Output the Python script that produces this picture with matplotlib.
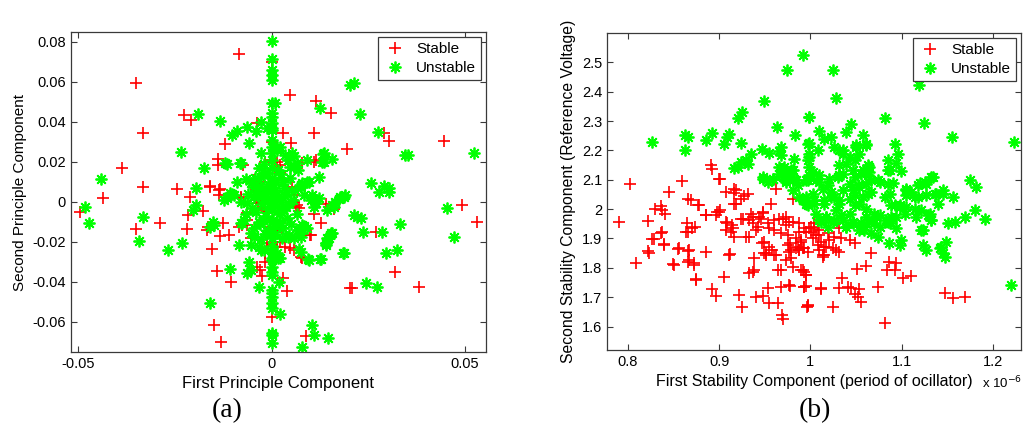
import numpy as np
import matplotlib
matplotlib.use('Agg')
import matplotlib.pyplot as plt

# (a) principal components, (x, y)
a_stable = np.array([
    (-0.0083, 0.0739), (-0.0349, 0.0595), (-0.0332, 0.0345), (-0.0227, 0.0434), (-0.0208, 0.0409),
    (-0.0386, 0.0167), (-0.0121, 0.0289), (-0.0138, 0.0212), (-0.0138, 0.0186), (-0.0073, 0.0185),
    (-0.0037, 0.0392), (0.0049, 0.0534), (0.0030, 0.0345), (0.0051, 0.0292), (0.0116, 0.0505),
    (0.0154, 0.0442), (0.0109, 0.0345), (0.0196, 0.0262), (0.0111, 0.0200), (-0.0332, 0.0075),
    (-0.0244, 0.0065), (-0.0160, 0.0080), (-0.0134, 0.0065), (0.0015, 0.0200), (0.0000, 0.0700),
    (0.0000, 0.0300), (0.0290, 0.0345), (0.0303, 0.0305), (0.0445, 0.0304), (0.0079, 0.0192),
    (-0.0436, 0.0017), (-0.0495, -0.0050), (-0.0351, -0.0138), (-0.0289, -0.0108), (-0.0218, -0.0138),
    (-0.0215, -0.0067), (-0.0211, 0.0022), (-0.0177, -0.0045), (-0.0166, -0.0142), (-0.0163, -0.0128),
    (-0.0153, -0.0238), (-0.0132, -0.0172), (-0.0110, -0.0167), (-0.0125, -0.0108), (-0.0142, -0.0347),
    (-0.0104, -0.0400), (-0.0149, -0.0617), (-0.0130, -0.0700), (-0.0080, 0.0017), (-0.0063, -0.0058),
    (-0.0063, -0.0092), (-0.0063, -0.0117), (-0.0054, -0.0183), (-0.0035, 0.0050), (-0.0035, -0.0008),
    (-0.0037, -0.0328), (-0.0030, -0.0342), (-0.0024, -0.0372), (-0.0024, -0.0242), (-0.0016, -0.0257),
    (-0.0016, -0.0300), (0.0000, -0.0578), (0.0030, -0.0383), (0.0040, -0.0445), (0.0088, -0.0670),
    (0.0036, -0.0225), (0.0049, -0.0233), (0.0058, -0.0242), (0.0075, -0.0275), (0.0066, -0.0017),
    (0.0071, -0.0033), (0.0058, 0.0000), (0.0110, -0.0062), (0.0140, -0.0012), (0.0129, -0.0108),
    (0.0161, -0.0038), (0.0202, -0.0433), (0.0491, -0.0017), (0.0530, -0.0100), (0.0271, -0.0153),
    (0.0320, -0.0350), (0.0208, -0.0433), (0.0380, -0.0425), (0.0099, -0.0167), (0.0079, -0.0283),
    (-0.0016, 0.0200), (0.0002, 0.0209), (0.0023, 0.0184), (0.0114, 0.0209), (-0.0046, 0.0109),
    (-0.0033, 0.0100), (-0.0041, 0.0059), (-0.0033, 0.0067), (0.0023, 0.0142), (0.0028, 0.0109),
    (0.0053, 0.0075), (0.0058, 0.0034), (0.0062, -0.0025), (-0.0158, 0.0072), (-0.0136, 0.0059),
    (-0.0136, 0.0034), (-0.0080, 0.0025), (-0.0076, -0.0117), (-0.0084, -0.0125), (0.0101, -0.0167),
    (-0.0020, -0.0042), (-0.0011, -0.0050), (-0.0003, -0.0125), (0.0015, -0.0142), (0.0023, -0.0108),
    (0.0028, -0.0133), (-0.0041, 0.0009), (-0.0028, -0.0008), (-0.0011, -0.0208), (0.0002, -0.0217),
    (0.0015, -0.0225), (0.0023, -0.0200),
])

a_unstable = np.array([
    (0.0214, 0.0592), (0.0204, 0.0584), (0.0125, 0.0467), (0.0228, 0.0438), (0.0275, 0.0350),
    (0.0346, 0.0234), (0.0352, 0.0232), (0.0523, 0.0242), (0.0134, 0.0239), (0.0131, 0.0200),
    (0.0157, 0.0212), (0.0092, 0.0209), (0.0122, 0.0125), (0.0256, 0.0092), (0.0290, 0.0079),
    (0.0303, 0.0069), (0.0092, 0.0100), (0.0075, 0.0084), (0.0000, 0.0805), (0.0000, 0.0712),
    (0.0000, 0.0658), (0.0000, 0.0634), (0.0000, 0.0608), (0.0000, 0.0493), (0.0010, 0.0493),
    (0.0000, 0.0443), (0.0000, 0.0424), (0.0000, 0.0368), (-0.0028, 0.0400), (-0.0011, 0.0367),
    (-0.0190, 0.0438), (-0.0132, 0.0405), (-0.0089, 0.0355), (-0.0102, 0.0333), (-0.0063, 0.0372),
    (-0.0039, 0.0355), (-0.0059, 0.0292), (-0.0233, 0.0250), (-0.0175, 0.0167), (-0.0116, 0.0188),
    (-0.0082, 0.0192), (-0.0028, 0.0242), (0.0000, 0.0308), (0.0013, 0.0275), (-0.0440, 0.0114),
    (-0.0196, 0.0067), (-0.0089, 0.0100), (-0.0067, 0.0112), (-0.0033, 0.0167), (-0.0011, 0.0142),
    (0.0058, 0.0228), (0.0049, 0.0175), (0.0068, 0.0158), (0.0135, 0.0242), (0.0135, 0.0200),
    (0.0454, -0.0033), (0.0471, -0.0178), (0.0221, -0.0075), (0.0230, -0.0083), (0.0214, -0.0067),
    (0.0333, -0.0112), (0.0286, -0.0150), (0.0237, -0.0153), (0.0297, -0.0258), (0.0325, -0.0242),
    (0.0185, -0.0258), (0.0245, -0.0405), (0.0273, -0.0425), (0.0096, -0.0292), (0.0125, -0.0288),
    (0.0142, -0.0208), (0.0148, -0.0183), (0.0154, -0.0158), (0.0083, -0.0125), (0.0075, -0.0158),
    (0.0075, -0.0250), (0.0105, -0.0617), (0.0111, -0.0667), (0.0146, -0.0683), (0.0079, -0.0725),
    (0.0165, 0.0000), (0.0178, 0.0022), (0.0189, 0.0034), (0.0157, -0.0017), (0.0277, 0.0050),
    (0.0303, 0.0050), (0.0101, 0.0009), (0.0114, -0.0008), (0.0122, 0.0017), (0.0083, 0.0034),
    (-0.0483, -0.0025), (-0.0472, -0.0108), (-0.0332, -0.0075), (-0.0343, -0.0195), (-0.0268, -0.0242),
    (-0.0230, -0.0208), (-0.0196, -0.0017), (-0.0202, -0.0042), (-0.0151, -0.0100), (-0.0149, -0.0117),
    (-0.0108, -0.0338), (-0.0160, -0.0508), (-0.0114, 0.0025), (-0.0102, 0.0039), (-0.0123, 0.0009),
    (-0.0076, -0.0108), (-0.0084, -0.0217), (-0.0054, -0.0217), (-0.0033, -0.0100), (-0.0059, -0.0300),
    (-0.0063, -0.0358), (-0.0054, -0.0342), (-0.0033, -0.0428), (-0.0028, -0.0242), (0.0000, -0.0292),
    (0.0000, -0.0325), (0.0000, -0.0350), (0.0000, -0.0367), (0.0000, -0.0442), (0.0000, -0.0458),
    (0.0000, -0.0475), (0.0000, -0.0508), (0.0000, -0.0533), (0.0023, -0.0562), (0.0000, -0.0655),
    (0.0000, -0.0667), (0.0000, -0.0708), (0.0019, -0.0400), (0.0016, -0.0283), (0.0023, -0.0283),
    (0.0043, -0.0175), (0.0071, -0.0238), (0.0094, -0.0288), (0.0127, -0.0288), (0.0068, -0.0142),
    (0.0085, -0.0122), (0.0142, -0.0208), (0.0144, -0.0183), (0.0157, -0.0155), (0.0000, 0.0392),
    (0.0000, 0.0358), (0.0000, 0.0275), (0.0000, 0.0242), (0.0023, 0.0275), (0.0015, 0.0258),
    (0.0036, 0.0233), (0.0053, 0.0242), (0.0042, 0.0209), (0.0066, 0.0192), (0.0058, 0.0175),
    (0.0096, 0.0100), (0.0187, 0.0025), (0.0174, 0.0012), (-0.0119, 0.0192), (-0.0080, 0.0192),
    (-0.0016, 0.0142), (-0.0028, 0.0125), (-0.0054, 0.0095), (-0.0046, 0.0075), (-0.0106, 0.0042),
    (-0.0114, 0.0017), (-0.0097, 0.0034), (-0.0080, 0.0000), (-0.0063, -0.0008), (-0.0046, 0.0025),
    (-0.0037, 0.0050), (-0.0158, -0.0125), (-0.0080, -0.0108), (-0.0072, -0.0092), (-0.0054, -0.0158),
    (-0.0046, -0.0175), (-0.0033, -0.0225), (-0.0020, -0.0242), (0.0002, -0.0283), (0.0015, -0.0258),
    (0.0045, -0.0167), (0.0075, -0.0175), (0.0058, -0.0183), (0.0079, -0.0117), (0.0092, -0.0133),
    (0.0071, -0.0142), (0.0075, 0.0075), (0.0079, 0.0092), (0.0105, 0.0034), (0.0114, 0.0009),
    (0.0110, -0.0025), (0.0144, -0.0042), (0.0161, -0.0025), (0.0140, -0.0217), (0.0152, -0.0167),
    (0.0187, -0.0258), (-0.0030, 0.0080), (-0.0020, 0.0050), (-0.0010, 0.0090), (0.0000, 0.0120),
    (0.0010, 0.0060), (0.0020, 0.0030), (0.0030, 0.0100), (0.0040, 0.0050), (0.0000, 0.0000),
    (-0.0010, 0.0020), (-0.0025, -0.0010), (0.0015, -0.0020), (0.0030, -0.0040), (0.0045, -0.0010),
    (-0.0040, -0.0050), (-0.0015, -0.0070), (0.0005, -0.0090), (0.0020, -0.0060), (0.0040, -0.0080),
    (-0.0030, -0.0110), (-0.0010, -0.0140), (0.0010, -0.0160), (0.0030, -0.0130), (-0.0050, -0.0030),
    (0.0055, 0.0010), (0.0000, 0.0170), (0.0000, 0.0210), (0.0000, 0.0060), (0.0000, -0.0040),
    (0.0000, -0.0180), (0.0000, -0.0220), (0.0000, -0.0250), (-0.0020, 0.0190), (0.0025, 0.0140),
    (0.0060, 0.0060), (-0.0060, 0.0040), (-0.0065, -0.0060), (0.0065, -0.0060), (0.0050, -0.0110),
    (-0.0045, -0.0130), (0.0010, 0.0020), (-0.0005, -0.0025), (0.0025, 0.0000), (-0.0020, 0.0015),
    (0.0035, 0.0030), (-0.0035, 0.0030), (0.0012, 0.0100), (-0.0012, 0.0060), (0.0022, -0.0100),
    (-0.0022, -0.0090), (0.0008, -0.0120), (0.0032, 0.0070), (-0.0018, -0.0160), (0.0038, -0.0025),
    (0.0005, 0.0040), (-0.0008, -0.0035), (0.0018, 0.0160), (-0.0042, 0.0120), (0.0048, 0.0120),
    (0.0028, -0.0180), (-0.0028, -0.0185), (0.0000, -0.0100), (0.0000, -0.0150), (0.0000, 0.0090),
])

# (b) stability components, x in units of 1e-6
b_stable = np.array([
    (0.8019, 2.087), (0.8590, 2.095), (0.8909, 2.150), (0.8926, 2.138), (0.9008, 2.101),
    (0.9165, 2.067), (0.9623, 2.067), (0.7901, 1.955), (0.8091, 1.817), (0.8223, 1.960),
    (0.8297, 1.999), (0.8360, 2.010), (0.8407, 1.985), (0.8370, 1.997), (0.8360, 1.919),
    (0.8286, 1.897), (0.8260, 1.897), (0.8396, 1.881), (0.8223, 1.858), (0.8231, 1.851),
    (0.8553, 1.863), (0.8495, 1.813), (0.8663, 2.033), (0.8652, 1.951), (0.8663, 1.923),
    (0.8736, 1.938), (0.8773, 2.014), (0.8663, 1.858), (0.8725, 1.815), (0.8663, 1.821),
    (0.8750, 1.761), (0.8854, 1.980), (0.8854, 1.855), (0.8981, 1.991), (0.9008, 1.997),
    (0.9080, 2.059), (0.9165, 2.055), (0.9183, 2.017), (0.9275, 2.044), (0.9091, 1.951),
    (0.9074, 1.929), (0.9140, 1.946), (0.9165, 1.906), (0.9129, 1.923), (0.8926, 1.727),
    (0.8963, 1.704), (0.9055, 1.768), (0.9118, 1.847), (0.9220, 1.707), (0.9249, 1.668),
    (0.9238, 1.968), (0.9330, 1.963), (0.9348, 1.985), (0.9366, 1.951), (0.9458, 1.968),
    (0.9476, 1.987), (0.9374, 1.974), (0.9293, 1.906), (0.9322, 1.904), (0.9403, 1.929),
    (0.9469, 1.885), (0.9495, 1.849), (0.9513, 1.844), (0.9385, 1.832), (0.9322, 1.783),
    (0.9366, 1.787), (0.9385, 1.793), (0.9403, 1.700), (0.9476, 1.704), (0.9531, 1.730),
    (0.9550, 1.872), (0.9579, 1.861), (0.9623, 1.844), (0.9542, 1.679), (0.9641, 1.679),
    (0.9689, 1.639), (0.9703, 1.625), (0.9568, 2.017), (0.9678, 1.793), (0.9678, 1.736),
    (0.9777, 1.738), (0.9659, 1.968), (0.9733, 1.974), (0.9769, 1.957), (0.9806, 1.957),
    (0.9678, 1.917), (0.9750, 1.912), (0.9777, 1.883), (0.9769, 1.855), (0.9788, 1.832),
    (0.9843, 1.900), (0.9879, 1.861), (0.9860, 1.872), (0.9898, 1.889), (0.9898, 1.793),
    (0.9934, 1.736), (0.9960, 1.668), (0.9879, 1.951), (0.9934, 1.934), (0.9879, 1.923),
    (0.9898, 1.895), (0.9934, 1.866), (0.9970, 1.855), (1.0025, 1.900), (1.0008, 1.940),
    (1.0044, 1.951), (1.0080, 1.929), (1.0099, 1.912), (1.0118, 1.889), (1.0154, 1.872),
    (1.0135, 1.844), (1.0190, 1.917), (1.0209, 1.895), (1.0245, 1.866), (1.0282, 1.861),
    (1.0319, 1.855), (1.0264, 1.906), (1.0319, 1.934), (1.0337, 1.900), (1.0429, 1.895),
    (1.0484, 1.883), (1.0667, 1.851), (1.0612, 1.806), (1.0509, 1.795), (1.0860, 1.821),
    (1.0839, 1.793), (1.0942, 1.815), (1.0923, 1.793), (1.1015, 1.764), (1.1106, 1.772),
    (1.0348, 1.764), (0.9934, 1.787), (0.9953, 1.776), (0.9934, 1.736), (1.0118, 1.727),
    (1.0319, 1.730), (1.0410, 1.734), (1.0447, 1.730), (1.0531, 1.727), (1.0484, 1.711),
    (1.0520, 1.700), (1.0557, 1.685), (1.0740, 1.734), (0.9970, 1.670), (1.0245, 1.666),
    (1.0813, 1.611), (1.1473, 1.715), (1.1564, 1.696), (1.1692, 1.702), (0.9806, 2.036),
    (0.9989, 1.934), (1.0044, 1.934), (1.0063, 1.912), (1.0008, 1.923), (0.9953, 1.923),
    (0.9915, 1.866), (0.9879, 1.861), (0.9843, 1.866), (1.0080, 1.878), (1.0099, 1.861),
    (1.0154, 1.844), (1.0172, 1.872), (1.0135, 1.838), (0.9750, 1.878), (0.9788, 1.861),
    (0.9733, 1.827), (0.9806, 1.804), (0.9915, 1.793), (0.9953, 1.776), (0.9769, 1.742),
    (0.9953, 1.738), (1.0118, 1.730), (0.9970, 1.673), (0.9641, 1.793), (0.9513, 1.849),
    (0.9604, 1.844), (0.9495, 1.889), (0.9421, 1.940), (0.9440, 1.974), (0.9476, 1.991),
    (0.9256, 1.968), (0.9146, 1.934), (0.9074, 1.957), (0.9531, 1.951), (0.9604, 1.963),
    (0.9696, 1.968), (0.9733, 1.946), (0.9604, 1.929), (0.9550, 1.934), (0.9000, 2.104),
    (0.9183, 2.065), (0.9311, 2.053), (0.9238, 2.036), (0.9165, 2.019), (0.8450, 2.059),
    (0.8689, 2.031), (0.8780, 2.014), (0.9000, 1.991), (0.8854, 1.980), (0.8963, 1.980),
    (0.8707, 1.934), (0.8634, 1.923), (0.8377, 1.923), (0.8396, 1.878), (0.8560, 1.866),
    (0.8670, 1.861), (0.8505, 1.810), (0.8670, 1.827), (0.8725, 1.810), (0.9110, 1.844),
    (0.8744, 1.759),
])

b_unstable = np.array([
    (0.9923, 2.524), (0.9740, 2.475), (0.9487, 2.367), (0.8267, 2.229), (0.8626, 2.252),
    (0.8663, 2.244), (0.8626, 2.200), (0.8860, 2.235), (0.8926, 2.261), (0.9055, 2.221),
    (0.9084, 2.246), (0.9110, 2.257), (0.9201, 2.309), (0.9249, 2.331), (0.9238, 2.226),
    (0.9630, 2.280), (0.9835, 2.254), (0.9982, 2.314), (0.9469, 2.206), (0.9542, 2.191),
    (0.9678, 2.210), (0.9659, 2.198), (0.9348, 2.189), (0.9293, 2.167), (0.9311, 2.155),
    (0.9238, 2.161), (0.9165, 2.140), (0.9201, 2.144), (0.9476, 2.110), (0.9531, 2.093),
    (0.9586, 2.104), (0.9659, 2.144), (0.9714, 2.133), (0.9750, 2.121), (0.9696, 2.110),
    (0.9733, 2.093), (0.9788, 2.133), (0.9824, 2.104), (0.9843, 2.099), (0.9824, 2.172),
    (0.9970, 2.223), (0.9970, 2.167), (0.9953, 2.099), (1.2205, 1.741), (1.1802, 1.997),
    (1.1912, 1.968), (1.1692, 1.972), (1.1582, 1.957), (1.1509, 1.951), (1.1564, 2.042),
    (1.1491, 1.889), (1.1436, 1.872), (1.1454, 1.849), (1.1473, 1.838), (1.1418, 1.866),
    (1.1216, 1.929), (1.1234, 1.878), (1.1271, 1.861), (1.1289, 1.980), (1.1326, 1.963),
    (1.1216, 1.997), (1.1143, 2.002), (1.0997, 1.895), (1.0978, 1.878), (1.0860, 1.883),
    (1.0868, 1.951), (1.0942, 1.934), (1.0832, 1.963), (1.0887, 1.974), (1.1033, 1.985),
    (1.0978, 2.008), (1.0923, 2.014), (1.0722, 1.974), (1.0758, 1.940), (1.0703, 1.951),
    (1.0667, 1.917), (1.0740, 1.906), (1.0612, 1.974), (1.0557, 1.951), (1.0593, 1.929),
    (1.0538, 1.929), (1.0465, 1.951), (1.0429, 1.985), (1.0392, 1.940), (1.0355, 1.963),
    (1.0484, 2.014), (1.0538, 2.019), (1.0172, 1.974), (1.0099, 1.963), (1.0282, 1.997),
    (1.0319, 2.019), (1.0227, 2.042), (1.0154, 2.019), (1.0245, 1.957), (1.0190, 1.940),
    (0.9915, 2.031), (0.9953, 2.042), (1.0025, 2.053), (0.9970, 2.014), (1.0044, 2.031),
    (1.0484, 2.048), (1.0630, 2.053), (1.0667, 2.059), (1.0868, 2.053), (1.0813, 2.042),
    (1.1052, 2.048), (1.1106, 2.059), (1.1179, 2.042), (1.1381, 2.053), (1.1454, 2.053),
    (1.0245, 2.473), (1.0282, 2.377), (0.9989, 2.314), (1.0813, 2.309), (1.1242, 2.292),
    (1.1190, 2.422), (1.1557, 2.246), (1.2234, 2.229), (1.0447, 2.289), (1.0392, 2.263),
    (1.0575, 2.254), (1.0612, 2.221), (1.0099, 2.266), (1.0227, 2.246), (1.0154, 2.240),
    (0.9989, 2.226), (1.0264, 2.212), (1.0319, 2.200), (1.0080, 2.200), (1.0923, 2.223),
    (1.0959, 2.187), (1.0849, 2.169), (1.0942, 2.157), (1.0997, 2.130), (1.0849, 2.133),
    (1.0502, 2.212), (1.0538, 2.189), (1.0429, 2.178), (1.0355, 2.189), (1.0484, 2.167),
    (1.0392, 2.155), (1.0319, 2.150), (1.0630, 2.150), (1.0648, 2.127), (1.0557, 2.121),
    (1.0465, 2.133), (1.0355, 2.121), (1.0300, 2.110), (1.0209, 2.104), (1.0099, 2.116),
    (1.0025, 2.127), (0.9989, 2.178), (0.9989, 2.144), (0.9970, 2.099), (1.0099, 2.093),
    (1.0190, 2.082), (1.0429, 2.087), (1.0520, 2.082), (1.0612, 2.087), (1.0667, 2.099),
    (1.0758, 2.093), (1.0849, 2.087), (1.0905, 2.089), (1.1052, 2.070), (1.1198, 2.089),
    (1.1271, 2.087), (1.1326, 2.110), (1.1454, 2.065), (1.1747, 2.099), (1.1821, 2.076),
    (0.9989, 2.189), (0.9678, 2.184), (1.0355, 2.200), (1.0502, 2.218), (1.0612, 2.218),
    (1.0319, 2.116), (1.0484, 2.110), (1.0575, 2.133), (1.0648, 2.144), (1.0630, 2.116),
    (1.0740, 2.099), (1.0868, 2.133), (1.1344, 2.110), (1.1253, 2.093), (1.1180, 2.082),
    (1.1052, 2.065), (1.1143, 2.042), (1.1271, 2.048), (1.1363, 2.053), (1.1399, 2.019),
    (1.1308, 1.985), (1.1326, 1.963), (1.1234, 1.929), (1.1161, 1.974), (1.1052, 2.008),
    (1.0978, 2.014), (1.0887, 2.014), (1.0942, 1.974), (1.0849, 1.957), (1.0758, 1.980),
    (1.0703, 1.985), (1.0612, 2.002), (1.0648, 1.957), (1.0575, 1.946), (1.0465, 1.957),
    (1.0392, 1.940), (1.0337, 1.980), (1.0264, 1.963), (1.0172, 1.974), (1.0118, 1.957),
    (1.0063, 1.985), (1.0044, 2.019), (1.0154, 2.031), (1.0227, 2.059), (1.0264, 2.042),
    (1.0355, 2.065), (1.0465, 2.065), (1.0538, 2.076), (1.0575, 2.042), (1.0429, 2.036),
    (1.0319, 2.031), (0.9915, 2.031), (0.9879, 2.042), (0.9953, 2.019), (0.9806, 2.065),
    (0.9733, 2.099), (0.9659, 2.121), (0.9806, 2.133), (0.9714, 2.144), (0.9586, 2.104),
    (0.9476, 2.104), (0.9860, 2.082), (0.9989, 2.116), (1.0063, 2.099), (1.0135, 2.070),
])

RED = '#ff0000'
GREEN = '#00ff00'
SPINE = '#3a3a3a'

plt.rcParams['font.family'] = ['Liberation Sans', 'DejaVu Sans']

fig = plt.figure(figsize=(10.24, 4.32), dpi=100)
ax1 = fig.add_axes([0.0693, 0.1852, 0.4053, 0.7407])
ax2 = fig.add_axes([0.5928, 0.1898, 0.4043, 0.7338])


def draw(ax, stable, unstable):
    ax.plot(stable[:, 0], stable[:, 1], linestyle='none', marker='+', ms=9,
            mew=1.2, color=RED, label='Stable')
    ax.plot(unstable[:, 0], unstable[:, 1], linestyle='none', marker=(8, 2, 0), ms=8.5,
            mew=1.3, color=GREEN, label='Unstable')
    ax.tick_params(direction='in', top=True, right=True, length=4, width=0.8,
                   labelsize=10.5, colors='black')
    for s in ax.spines.values():
        s.set_color(SPINE)
        s.set_linewidth(0.9)
    ax.tick_params(axis='both', color=SPINE)
    leg = ax.legend(loc='upper right', fontsize=11, frameon=True, fancybox=False,
                    borderpad=0.3, handletextpad=0.6, labelspacing=0.35,
                    borderaxespad=0.35, handlelength=1.6)
    leg.get_frame().set_edgecolor(SPINE)
    leg.get_frame().set_linewidth(0.9)
    leg.get_frame().set_alpha(1)


draw(ax1, a_stable, a_unstable)
ax1.set_xlim(-0.0518, 0.0554)
ax1.set_ylim(-0.0752, 0.0849)
ax1.set_xticks([-0.05, 0, 0.05])
ax1.set_xticklabels(['-0.05', '0', '0.05'])
ax1.set_yticks([-0.06, -0.04, -0.02, 0, 0.02, 0.04, 0.06, 0.08])
ax1.set_yticklabels(['-0.06', '-0.04', '-0.02', '0', '0.02', '0.04', '0.06', '0.08'])
ax1.set_xlabel('First Principle Component', fontsize=12, labelpad=4)
ax1.set_ylabel('Second Principle Component', fontsize=11, labelpad=4)

draw(ax2, b_stable, b_unstable)
ax2.set_xlim(0.777, 1.231)
ax2.set_ylim(1.52, 2.6)
ax2.set_xticks([0.8, 0.9, 1.0, 1.1, 1.2])
ax2.set_xticklabels(['0.8', '0.9', '1', '1.1', '1.2'])
ax2.set_yticks([1.6, 1.7, 1.8, 1.9, 2.0, 2.1, 2.2, 2.3, 2.4, 2.5])
ax2.set_yticklabels(['1.6', '1.7', '1.8', '1.9', '2', '2.1', '2.2', '2.3', '2.4', '2.5'])
ax2.set_xlabel('First Stability Component (period of ocillator)', fontsize=11.5, labelpad=4)
ax2.set_ylabel('Second Stability Component (Reference Voltage)', fontsize=11.3, labelpad=4)
fig.text(0.9985, 0.094, r'x 10$^{-6}$', fontsize=9.5, ha='right', va='bottom')

fig.text(0.222, 0.05, '(a)', fontsize=20, ha='center', va='center',
         family=['Liberation Serif', 'DejaVu Serif'])
fig.text(0.796, 0.05, '(b)', fontsize=20, ha='center', va='center',
         family=['Liberation Serif', 'DejaVu Serif'])

fig.savefig('out.png', dpi=100)
